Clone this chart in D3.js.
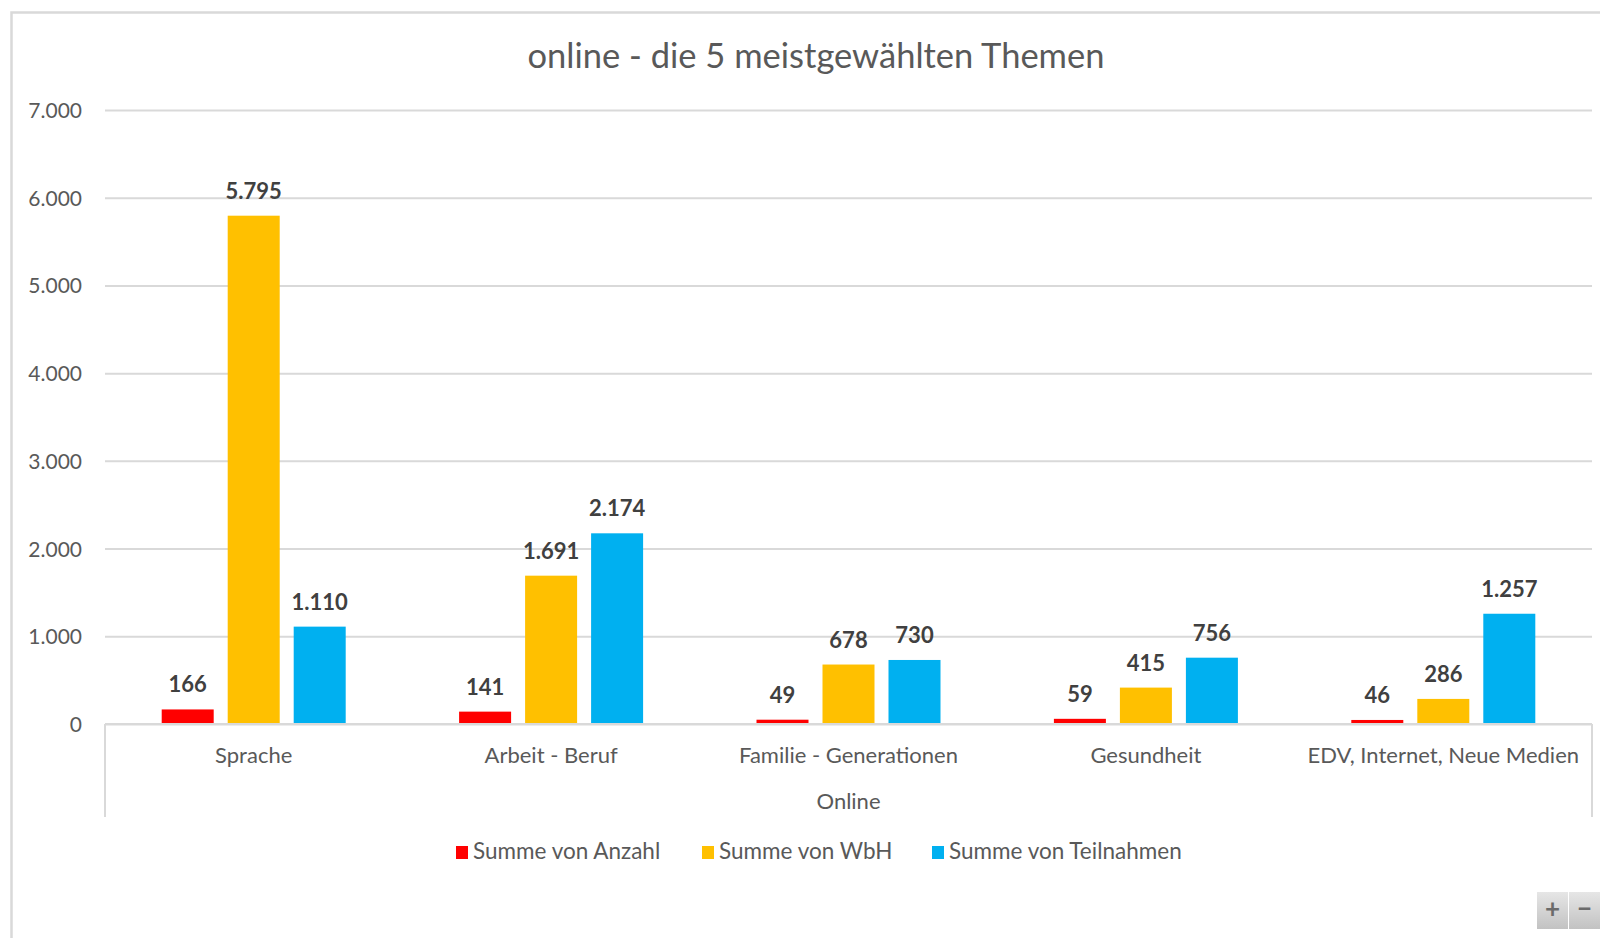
<!DOCTYPE html>
<html>
<head>
<meta charset="utf-8">
<script src="https://cdn.jsdelivr.net/npm/d3@7/dist/d3.min.js"></script>
<style>
  html, body { margin: 0; padding: 0; background: #fff; }
  svg { display: block; }
  text { font-family: Lato, "Open Sans", sans-serif; }
</style>
</head>
<body>
<svg id="chart" width="1600" height="938"></svg>
<script>
// Topics and series
const categories = ["Sprache", "Arbeit - Beruf", "Familie - Generationen", "Gesundheit", "EDV, Internet, Neue Medien"];
const seriesNames = ["Summe von Anzahl", "Summe von WbH", "Summe von Teilnahmen"];
const seriesColors = ["#FF0000", "#FFC000", "#00B0F0"];
const anzahl = [166, 141, 49, 59, 46];
const wbh = [5795, 1691, 678, 415, 286];
const teilnahmen = [1110, 2174, 730, 756, 1257];
const yTicks = [0, 1000, 2000, 3000, 4000, 5000, 6000, 7000];
const chartTitle = "online - die 5 meistgewählten Themen";
const axisTitle = "Online";

const seriesValues = [anzahl, wbh, teilnahmen];
const rows = categories.map((c, i) => ({
  category: c,
  values: seriesNames.map((s, j) => ({ series: s, color: seriesColors[j], value: seriesValues[j][i] }))
}));

const fmt = d3.formatLocale({ decimal: ",", thousands: ".", grouping: [3], currency: ["", " €"] }).format(",.0f");

const svg = d3.select("#chart");
const W = 1600, H = 938;
const plot = { left: 105, right: 1592, top: 110, bottom: 724 };

// Outer chart frame
svg.append("path")
  .attr("d", `M11.5,${H} L11.5,12.5 L${W},12.5`)
  .attr("fill", "none").attr("stroke", "#D9D9D9").attr("stroke-width", 2.5);

// Scales
const y = d3.scaleLinear().domain([0, 7000]).range([plot.bottom, plot.top]);
const x0 = d3.scaleBand().domain(categories).range([plot.left, plot.right])
  .paddingInner(0.3813).paddingOuter(0.3813 / 2);
const x1 = d3.scaleBand().domain(seriesNames).range([0, x0.bandwidth()])
  .paddingInner(14 / 66).paddingOuter(0);

// Gridlines + y tick labels
const yAxis = d3.axisLeft(y).tickValues(yTicks).tickFormat(fmt)
  .tickSize(-(plot.right - plot.left)).tickPadding(23);
const gy = svg.append("g").attr("transform", `translate(${plot.left},0)`).call(yAxis);
gy.select(".domain").remove();
gy.selectAll(".tick line").attr("stroke", "#D9D9D9").attr("stroke-width", 2);
gy.selectAll(".tick text").attr("fill", "#595959").attr("font-size", 21).attr("dy", "0.36em");

// Category frame lines below the baseline
[plot.left, plot.right].forEach(xv => {
  svg.append("line").attr("x1", xv).attr("x2", xv).attr("y1", plot.bottom).attr("y2", 817)
    .attr("stroke", "#D9D9D9").attr("stroke-width", 2);
});

// Bars
const groups = svg.append("g").selectAll("g").data(rows).join("g")
  .attr("transform", d => `translate(${x0(d.category)},0)`);
groups.selectAll("rect").data(d => d.values).join("rect")
  .attr("x", d => x1(d.series))
  .attr("width", x1.bandwidth())
  .attr("y", d => y(d.value))
  .attr("height", d => y(0) - y(d.value))
  .attr("fill", d => d.color);

// Value labels
groups.selectAll("text.val").data(d => d.values).join("text")
  .attr("class", "val")
  .attr("x", d => x1(d.series) + x1.bandwidth() / 2)
  .attr("y", d => y(d.value) - 17)
  .attr("text-anchor", "middle")
  .attr("font-size", 22).attr("font-weight", "bold").attr("fill", "#404040")
  .text(d => fmt(d.value));

// Baseline drawn over the bars
svg.append("line").attr("x1", plot.left).attr("x2", plot.right)
  .attr("y1", plot.bottom).attr("y2", plot.bottom)
  .attr("stroke", "#D9D9D9").attr("stroke-width", 2);

// Category labels
svg.append("g").selectAll("text").data(categories).join("text")
  .attr("x", d => x0(d) + x0.bandwidth() / 2)
  .attr("y", 763)
  .attr("text-anchor", "middle")
  .attr("font-size", 22).attr("fill", "#595959")
  .text(d => d);

// Axis title
svg.append("text").attr("x", (plot.left + plot.right) / 2).attr("y", 809)
  .attr("text-anchor", "middle").attr("font-size", 22).attr("fill", "#595959")
  .text(axisTitle);

// Chart title
svg.append("text").attr("x", 816).attr("y", 68)
  .attr("text-anchor", "middle").attr("font-size", 34.5).attr("fill", "#595959")
  .text(chartTitle);

// Legend
const legendX = [456, 702, 932];
const lg = svg.append("g").selectAll("g").data(seriesNames).join("g")
  .attr("transform", (d, i) => `translate(${legendX[i]},846)`);
lg.append("rect").attr("width", 12).attr("height", 13).attr("fill", (d, i) => seriesColors[i]);
lg.append("text").attr("x", 17).attr("y", 13)
  .attr("font-size", 22.5).attr("fill", "#595959").text(d => d);

// Zoom buttons
const defs = svg.append("defs");
const grad = defs.append("linearGradient").attr("id", "btn").attr("x1", 0).attr("y1", 0).attr("x2", 0).attr("y2", 1);
grad.append("stop").attr("offset", "0%").attr("stop-color", "#E6E6E6");
grad.append("stop").attr("offset", "100%").attr("stop-color", "#C2C2C2");
[["+", 1537], ["\u2212", 1569]].forEach(([s, bx]) => {
  svg.append("rect").attr("x", bx).attr("y", 892).attr("width", 31).attr("height", 37).attr("fill", "url(#btn)");
  svg.append("text").attr("x", bx + 15.5).attr("y", 918).attr("text-anchor", "middle")
    .attr("font-size", 26).attr("font-weight", "bold").attr("fill", "#6B6B6B").text(s);
});
</script>
</body>
</html>
